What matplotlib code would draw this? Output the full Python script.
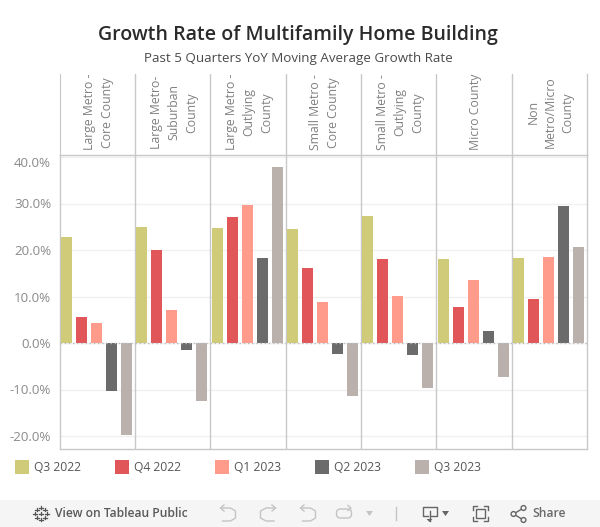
import matplotlib
matplotlib.use('Agg')
import matplotlib.pyplot as plt
from matplotlib.patches import Rectangle, Circle, FancyBboxPatch

plt.rcParams['font.family'] = ['Open Sans', 'DejaVu Sans']

W, H = 600, 527

# data
regions = ['Large Metro -\nCore County', 'Large Metro-\nSuburban\nCounty', 'Large Metro -\nOutlying\nCounty',
           'Small Metro -\nCore County', 'Small Metro -\nOutlying\nCounty', 'Micro County', 'Non\nMetro/Micro\nCounty']
quarters = ['Q3 2022', 'Q4 2022', 'Q1 2023', 'Q2 2023', 'Q3 2023']
colors = ['#CFCB78', '#E15759', '#FF9B8A', '#6B6B6B', '#BAB0AC']
q3_2022 = [22.7, 25.0, 24.8, 24.6, 27.4, 18.0, 18.2]
q4_2022 = [5.5, 19.9, 27.2, 16.2, 18.0, 7.8, 9.4]
q1_2023 = [4.4, 7.0, 29.6, 8.9, 10.2, 13.5, 18.4]
q2_2023 = [-10.3, -1.5, 18.2, -2.4, -2.6, 2.6, 29.4]
q3_2023 = [-19.7, -12.4, 37.9, -11.4, -9.7, -7.3, 20.6]
series = [q3_2022, q4_2022, q1_2023, q2_2023, q3_2023]
yticks = [-20, -10, 0, 10, 20, 30, 40]

line_col = '#C8C8C8'
grid_col = '#F0F0F0'


def px_axes(x0, y0, x1, y1):
    return fig.add_axes([x0 / W, 1 - y1 / H, (x1 - x0) / W, (y1 - y0) / H])


fig = plt.figure(figsize=(W / 100, H / 100), dpi=100, facecolor='white')

# page level stuff in pixel coords
bg = fig.add_axes([0, 0, 1, 1], zorder=0)
bg.set_xlim(0, W)
bg.set_ylim(H, 0)
bg.axis('off')
bg.add_patch(Rectangle((0, 500), W, 27, color='#F5F5F5', lw=0))

bg.text(298, 35, 'Growth Rate of Multifamily Home Building', ha='center', va='center',
        fontsize=14.05, color='#2B2B2B', fontweight='semibold')
bg.text(298, 58.5, 'Past 5 Quarters YoY Moving Average Growth Rate', ha='center', va='center',
        fontsize=9.65, color='#4A4A4A')

# main plot
px_top, px_bottom = 154.5, 448.5
left, right = 59.5, 587
ax = px_axes(left, px_top, right, px_bottom)
ax.patch.set_alpha(0)
ax.set_zorder(2)
ax.set_xlim(0, 7)
zero_px, per_unit = 343, 4.65
ax.set_ylim((zero_px - px_bottom) / per_unit, (zero_px - px_top) / per_unit)

for j, vals in enumerate(series):
    xs = [i + 0.093 + 0.199 * j for i in range(7)]
    ax.bar(xs, vals, width=0.146, color=colors[j], zorder=3)

ax.axhline(0, color='#BDBDBD', lw=1, ls=(0, (1, 2)), zorder=4)
ax.set_yticks(yticks)
ax.set_yticklabels([f'{v:.1f}%' for v in yticks], fontsize=9.6, color='#8A8A8A')
ax.grid(axis='y', color=grid_col, lw=1, zorder=0)
ax.set_axisbelow(True)
ax.tick_params(axis='y', length=0, pad=6)
ax.set_xticks([])
for i in range(1, 7):
    ax.axvline(i, color=line_col, lw=1, zorder=2)
for s in ax.spines.values():
    s.set_color(line_col)
    s.set_linewidth(1)

# 40% label sits a bit lower than its gridline
ax.get_yticklabels()[-1].set_verticalalignment('top')

# header row with the rotated region names
hd = px_axes(left, 74, right, px_top)
hd.patch.set_alpha(0)
hd.set_xlim(0, 7)
hd.set_ylim(0, 1)
hd.set_xticks([])
hd.set_yticks([])
for name in ['top', 'right', 'bottom']:
    hd.spines[name].set_visible(False)
hd.spines['left'].set_color(line_col)
for i in range(1, 7):
    hd.axvline(i, color=line_col, lw=1)
hd.plot([7, 7], [0, 1], color=line_col, lw=1, clip_on=False)
for i, name in enumerate(regions):
    hd.text(i + 0.516, 0.525, name, rotation=90, ha='center', va='center',
            multialignment='center', fontsize=8.8, color='#808080', linespacing=1.47)

# legend
leg_x = [15, 115, 215, 315, 415]
for x, col, q in zip(leg_x, colors, quarters):
    bg.add_patch(Rectangle((x, 460), 14, 14, color=col, lw=0))
    bg.text(x + 19.5, 467.5, q, ha='left', va='center', fontsize=8.7, color='#555555')

# toolbar
bar_col = '#666666'
bg.text(55, 513.5, 'View on Tableau Public', ha='left', va='center', fontsize=8.75,
        color='#5A5A5A', fontweight='semibold')
bg.text(532, 513.5, 'Share', ha='left', va='center', fontsize=8.7, color='#6A6A6A', fontweight='semibold')

# tableau logo
for dx, dy in [(0, -6), (0, 6), (-6, 0), (6, 0), (-4, -4), (4, -4), (-4, 4), (4, 4), (0, 0)]:
    bg.plot([41 + dx - 1.8, 41 + dx + 1.8], [513.5 + dy, 513.5 + dy], color='#555555', lw=0.9)
    bg.plot([41 + dx, 41 + dx], [513.5 + dy - 1.8, 513.5 + dy + 1.8], color='#555555', lw=0.9)

# undo / redo / revert, greyed out
grey = '#C4C4C4'
for x0 in [220.5, 300.5]:
    bg.plot([x0, x0 + 10, x0 + 15, x0 + 15, x0 + 10, x0 + 2], [508, 508, 511, 518, 521, 521], color=grey, lw=1)
    bg.plot([x0 + 3.5, x0, x0 + 3.5], [505, 508, 511], color=grey, lw=1)
bg.plot([275.5, 266, 260.5, 260.5, 266, 274], [508, 508, 511, 518, 521, 521], color=grey, lw=1)
bg.plot([272, 275.5, 272], [505, 508, 511], color=grey, lw=1)
bg.add_patch(FancyBboxPatch((336.5, 509), 15, 9, boxstyle='round,pad=0,rounding_size=4',
                            fill=False, ec=grey, lw=1))
bg.plot([348, 351, 348], [505.5, 508, 510.5], color=grey, lw=1)
bg.fill([366, 373, 369.5], [511, 511, 516], color=grey, lw=0)
bg.plot([395.5, 395.5], [507, 520], color=grey, lw=1)

# download icon
bg.plot([428, 422.5, 422.5, 436.5, 436.5, 431], [516, 516, 507, 507, 516, 516], color=bar_col, lw=1)
bg.plot([429.5, 429.5], [511, 521], color=bar_col, lw=1)
bg.fill([426.5, 432.5, 429.5], [519, 519, 522], color=bar_col, lw=0)
bg.fill([442, 449, 445.5], [511, 511, 516], color=bar_col, lw=0)

# fullscreen icon
bg.add_patch(Rectangle((476, 509), 9, 9, fill=False, ec=bar_col, lw=1))
for cx, cy, sx, sy in [(473, 506, 1, 1), (488, 506, -1, 1), (473, 521, 1, -1), (488, 521, -1, -1)]:
    bg.plot([cx + 4 * sx, cx, cx], [cy, cy, cy + 4 * sy], color=bar_col, lw=1)

# share icon
bg.plot([523.5, 513.5, 523.5], [508, 514, 520], color=bar_col, lw=1)
for cx, cy in [(523.5, 508), (513.5, 514), (523.5, 520)]:
    bg.add_patch(Circle((cx, cy), 2.4, fc='#F5F5F5', ec=bar_col, lw=1, zorder=3))

fig.savefig('out.png', dpi=100)
